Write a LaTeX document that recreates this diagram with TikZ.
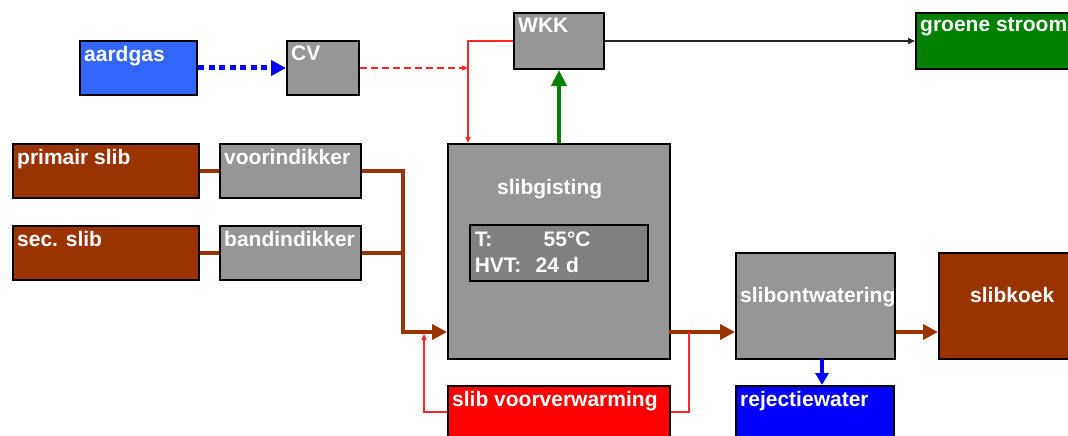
\documentclass[tikz,border=0pt]{standalone}
\usepackage{fontspec}
\setmainfont{Liberation Sans}
\usetikzlibrary{arrows.meta,calc}
\definecolor{gasblue}{RGB}{51,102,255}
\definecolor{procgrey}{RGB}{150,150,150}
\definecolor{condgrey}{RGB}{128,128,128}
\definecolor{powergreen}{RGB}{0,128,0}
\definecolor{sludge}{RGB}{153,51,0}
\definecolor{heatred}{RGB}{255,40,40}
\tikzset{
  % white bold box texts
  txt/.style={anchor=north west, inner sep=0pt, text=white,
    font=\fontsize{21}{26}\selectfont\bfseries},
  tag/.style={label={[txt, xshift=5pt, yshift=-6pt]north west:#1}},
  % process boxes
  box/.style={draw=black, line width=2pt, inner sep=0pt, anchor=north west},
  greybox/.style={box, fill=procgrey},
  inbox/.style={draw=black, line width=1.5pt, fill=condgrey, anchor=north west,
    inner sep=5pt, align=left, text=white, font=\fontsize{21}{26}\selectfont\bfseries},
  % flows
  sludgeline/.style={line width=4pt, sludge},
  sludgearrow/.style={sludgeline, -{Triangle[length=15pt,width=15pt]}},
  gasline/.style={line width=5pt, blue, dash pattern=on 6pt off 4.5pt,
    -{Triangle[length=15pt,width=15pt]}},
  heatline/.style={line width=1.2pt, heatred},
  heattip/.style={-{Triangle[length=6pt,width=5pt]}},
  heatdash/.style={heatline, heattip, line width=1.4pt, dash pattern=on 7pt off 4pt},
  biogas/.style={line width=4.5pt, powergreen, -{Triangle[length=16pt,width=15pt]}},
  elec/.style={line width=1.5pt, black!85, -{Triangle[length=7pt,width=6pt]}},
  waterline/.style={line width=4pt, blue, -{Triangle[length=12pt,width=13pt]}},
}

\begin{document}
\begin{tikzpicture}[x=1pt, y=-1pt]
  \useasboundingbox (0,0) rectangle (1068,436);
  % --- gas and energy ---
  \node[box, fill=gasblue, minimum width=117pt, minimum height=54pt, tag=aardgas] (gas) at (79,40) {};
  \node[greybox, minimum width=72pt, minimum height=54pt, tag=CV] (cv) at (286,40) {};
  \node[greybox, minimum width=90pt, minimum height=56pt, tag=WKK] (wkk) at (513,12) {};
  \node[box, fill=powergreen, minimum width=170pt, minimum height=56pt, tag=groene stroom] (power) at (915,12) {};
  % --- sludge feed ---
  \node[box, fill=sludge, minimum width=186pt, minimum height=54pt, tag=primair slib] (prim) at (12,143) {};
  \node[greybox, minimum width=141pt, minimum height=54pt, tag=voorindikker] (thick1) at (219,143) {};
  \node[box, fill=sludge, minimum width=186pt, minimum height=54pt, tag=sec. slib] (sec) at (12,225) {};
  \node[greybox, minimum width=141pt, minimum height=54pt, tag=bandindikker] (thick2) at (219,225) {};
  % --- digester ---
  \node[greybox, minimum width=222pt, minimum height=215pt,
    label={[txt, xshift=50pt, yshift=-36pt]north west:slibgisting}] (dig) at (447,143) {};
  \node[inbox, text width=168pt, minimum height=56pt] (cond) at (469,224)
    {\makebox[69pt][l]{T:}55°C\\\makebox[61pt][l]{HVT:}24 d};
  \node[box, fill=red, minimum width=222pt, minimum height=52pt, tag=slib voorverwarming] (pre) at (447,385) {};
  % --- dewatering ---
  \node[greybox, minimum width=159pt, minimum height=106pt,
    label={[txt, xshift=5pt, yshift=-35pt]north west:slibontwatering}] (dew) at (735,252) {};
  \node[box, fill=sludge, minimum width=140pt, minimum height=106pt,
    label={[txt, xshift=32pt, yshift=-35pt]north west:slibkoek}] (cake) at (938,252) {};
  \node[box, fill=blue, minimum width=158pt, minimum height=52pt, tag=rejectiewater] (rej) at (735,385) {};

  % junctions
  \coordinate (heat) at (468,67);
  \coordinate (mix) at (403,332);
  \coordinate (ret) at (424,334);
  \coordinate (digout) at (669,332);
  \coordinate (tap) at (689,332);
  \coordinate (drain) at (822,359);

  % connectors
  \draw[gasline] (gas.east) -- (cv.west);
  \draw[heatdash] (cv.east) -- (cv.east -| heat);
  \draw[heatline, heattip] (wkk.west) -| (heat |- dig.north);
  \draw[biogas] (dig.north) -- (wkk.south);
  \draw[elec] (wkk.east) -- (power.west);
  \draw[sludgeline] (prim.east) -- (thick1.west);
  \draw[sludgeline] (sec.east) -- (thick2.west);
  \draw[sludgearrow] (thick1.east) -| (mix) -- (mix -| dig.west);
  \draw[sludgeline] (thick2.east) -- (thick2.east -| mix);
  \draw[heatline, heattip] (pre.west) -| (ret);
  \draw[sludgearrow] (digout) -- (digout -| dew.west);
  \draw[sludgearrow] (dew.east |- digout) -- (digout -| cake.west);
  \draw[heatline] (pre.east) -| (tap);
  \draw[waterline] (drain) -- (drain |- rej.north);
\end{tikzpicture}
\end{document}
